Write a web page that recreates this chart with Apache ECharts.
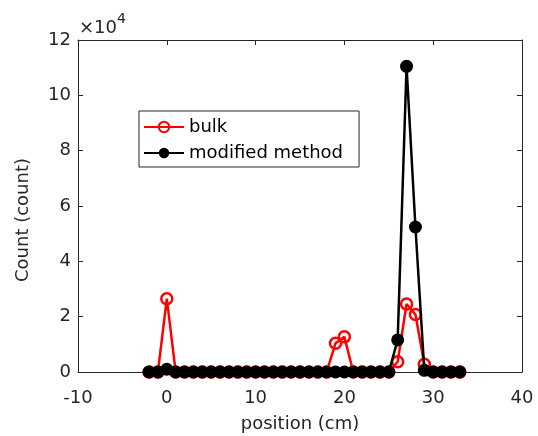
<!DOCTYPE html>
<html><head><meta charset="utf-8">
<script src="https://cdn.jsdelivr.net/npm/echarts@6/dist/echarts.min.js"></script>
<style>html,body{margin:0;padding:0;background:#fff}#c{width:538px;height:436px}</style>
</head><body><div id="c"></div>
<script>
const positions = [-2,-1,0,1,2,3,4,5,6,7,8,9,10,11,12,13,14,15,16,17,18,19,20,21,22,23,24,25,26,27,28,29,30,31,32,33];
const bulk = [0,0,26500,0,0,0,0,0,0,0,0,0,0,0,0,0,0,0,0,0,0,10400,12700,0,0,0,0,0,3700,24600,20800,2800,0,0,0,0];
const modified = [0,0,1000,0,0,0,0,0,0,0,0,0,0,0,0,0,0,0,0,0,0,0,0,0,0,0,0,0,11600,110500,52400,600,0,0,0,0];
const seriesNames = ['bulk','modified method'];
const xTicks = {min:-10,max:40,step:10};
const yTicks = {min:0,max:120000,step:20000};
const FONT = 'DejaVu Sans';
const FS = 18;

const chart = echarts.init(document.getElementById('c'));
const pairs = a => positions.map((p,i)=>[p,a[i]]);
const axisCommon = () => ({
  axisLine:{show:true,onZero:false,lineStyle:{color:'#262626',width:1}},
  axisTick:{show:true,inside:true,length:5,lineStyle:{color:'#262626'}},
  splitLine:{show:false}
});
chart.setOption({
  animation:false,
  textStyle:{fontFamily:FONT},
  grid:{left:78,right:16,top:40,bottom:64,containLabel:false,outerBoundsMode:'none'},
  xAxis:[
    Object.assign({type:'value',min:xTicks.min,max:xTicks.max,interval:xTicks.step,position:'bottom',
      name:'position (cm)',nameLocation:'middle',nameGap:43,
      nameTextStyle:{fontSize:FS,color:'#262626',fontFamily:FONT},
      axisLabel:{fontSize:FS,color:'#262626',margin:17,fontFamily:FONT}},axisCommon()),
    Object.assign({type:'value',min:xTicks.min,max:xTicks.max,interval:xTicks.step,position:'top',
      axisLabel:{show:false}},axisCommon())
  ],
  yAxis:[
    Object.assign({type:'value',min:yTicks.min,max:yTicks.max,interval:yTicks.step,position:'left',
      name:'Count (count)',nameLocation:'middle',nameGap:46,
      nameTextStyle:{fontSize:FS,color:'#262626',fontFamily:FONT,padding:[0,28,0,0]},
      axisLabel:{fontSize:FS,color:'#262626',margin:7,fontFamily:FONT,formatter:v=>String(v/10000)}},axisCommon()),
    Object.assign({type:'value',min:yTicks.min,max:yTicks.max,interval:yTicks.step,position:'right',
      axisLabel:{show:false}},axisCommon())
  ],
  legend:{
    orient:'vertical',left:139,top:111,
    data:seriesNames,
    borderColor:'#262626',borderWidth:1,backgroundColor:'#fff',borderRadius:0,
    padding:[6,16,4,4],itemGap:6,itemWidth:40,itemHeight:13,
    textStyle:{fontSize:FS,color:'#000',fontFamily:FONT,lineHeight:20}
  },
  graphic:[{
    type:'text',left:79,top:12,
    style:{
      text:'{a|×10}{b|4}',
      rich:{a:{fontSize:FS,fill:'#262626',fontFamily:FONT,padding:[7,0,0,0]},b:{fontSize:14,fill:'#262626',fontFamily:FONT,verticalAlign:'top',padding:[0,0,9,0]}}
    }
  }],
  series:[
    {name:seriesNames[0],type:'line',data:pairs(bulk),
      symbol:'circle',symbolSize:11,showAllSymbol:true,
      lineStyle:{color:'#ff0000',width:2.5},
      itemStyle:{color:'rgba(255,255,255,0)',borderColor:'#ff0000',borderWidth:2.5},
      z:2},
    {name:seriesNames[1],type:'line',data:pairs(modified),
      symbol:'circle',symbolSize:13,showAllSymbol:true,
      lineStyle:{color:'#000',width:2.5},
      itemStyle:{color:'#000',borderColor:'#000',borderWidth:0},
      z:3}
  ]
});
</script></body></html>
